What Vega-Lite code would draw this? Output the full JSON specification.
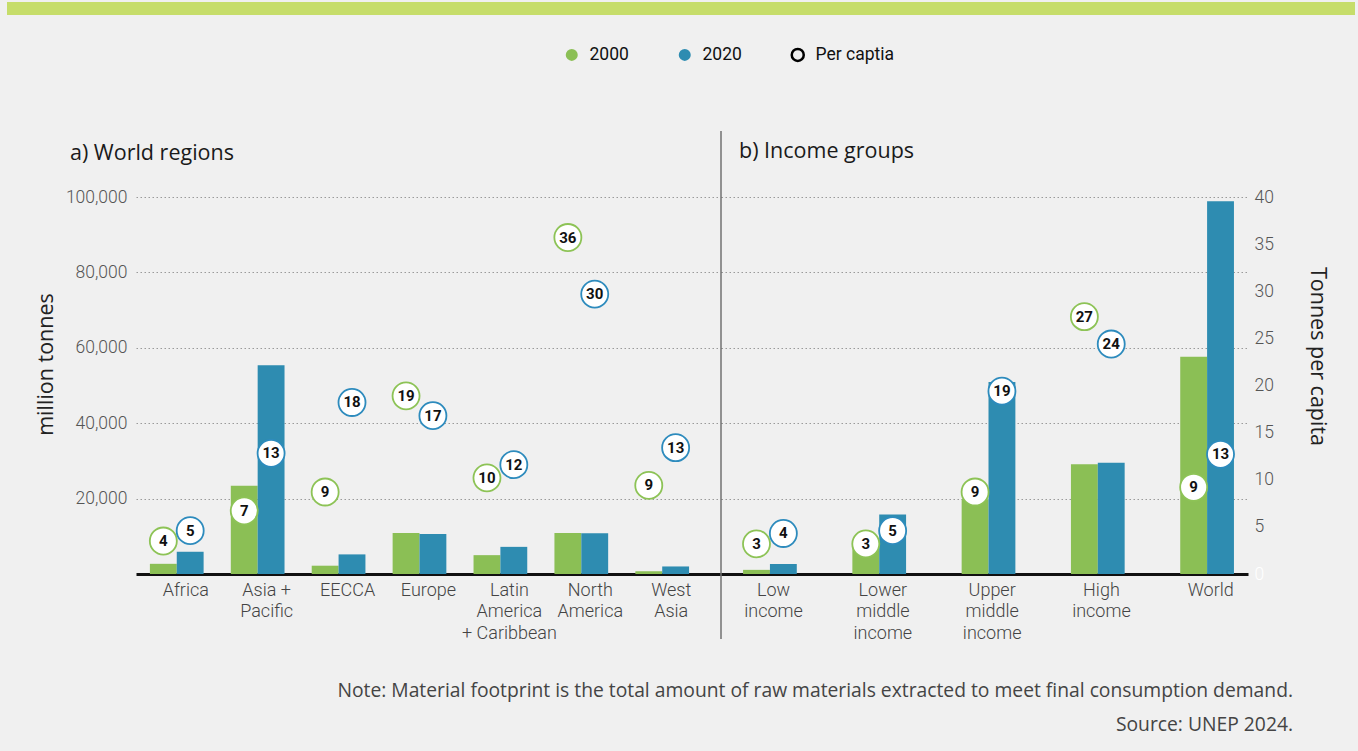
{
  "$schema": "https://vega.github.io/schema/vega-lite/v6.json",
  "background": "#f0f0f0",
  "padding": {"left": 7, "top": 2, "right": 3, "bottom": 18},
  "datasets": {
    "regions": [
      {"group": "Africa", "year": "2000", "tonnes": 2700, "percap": 3.5},
      {"group": "Africa", "year": "2020", "tonnes": 5900, "percap": 4.6},
      {"group": "Asia + Pacific", "year": "2000", "tonnes": 23400, "percap": 6.7},
      {"group": "Asia + Pacific", "year": "2020", "tonnes": 55400, "percap": 12.8},
      {"group": "EECCA", "year": "2000", "tonnes": 2200, "percap": 8.7},
      {"group": "EECCA", "year": "2020", "tonnes": 5200, "percap": 18.2},
      {"group": "Europe", "year": "2000", "tonnes": 10900, "percap": 18.9},
      {"group": "Europe", "year": "2020", "tonnes": 10600, "percap": 16.8},
      {"group": "Latin America + Caribbean", "year": "2000", "tonnes": 5000, "percap": 10.2},
      {"group": "Latin America + Caribbean", "year": "2020", "tonnes": 7200, "percap": 11.6},
      {"group": "North America", "year": "2000", "tonnes": 10900, "percap": 35.7},
      {"group": "North America", "year": "2020", "tonnes": 10800, "percap": 29.7},
      {"group": "West Asia", "year": "2000", "tonnes": 700, "percap": 9.4},
      {"group": "West Asia", "year": "2020", "tonnes": 2000, "percap": 13.4}
    ],
    "income": [
      {"group": "Low income", "year": "2000", "tonnes": 1100, "percap": 3.2},
      {"group": "Low income", "year": "2020", "tonnes": 2650, "percap": 4.3},
      {"group": "Lower middle income", "year": "2000", "tonnes": 7200, "percap": 3.2},
      {"group": "Lower middle income", "year": "2020", "tonnes": 15800, "percap": 4.6},
      {"group": "Upper middle income", "year": "2000", "tonnes": 19800, "percap": 8.7},
      {"group": "Upper middle income", "year": "2020", "tonnes": 50900, "percap": 19.4},
      {"group": "High income", "year": "2000", "tonnes": 29100, "percap": 27.3},
      {"group": "High income", "year": "2020", "tonnes": 29500, "percap": 24.4},
      {"group": "World", "year": "2000", "tonnes": 57600, "percap": 9.2},
      {"group": "World", "year": "2020", "tonnes": 98900, "percap": 12.7}
    ]
  },
  "title": {
    "text": "Note: Material footprint is the total amount of raw materials extracted to meet final consumption demand.",
    "subtitle": "Source: UNEP 2024.",
    "orient": "bottom",
    "anchor": "end",
    "frame": "bounds",
    "dx": -62,
    "offset": 40,
    "font": "Open Sans",
    "fontSize": 19.3,
    "fontWeight": "normal",
    "color": "#444444",
    "subtitleFont": "Open Sans",
    "subtitleFontSize": 19.3,
    "subtitleColor": "#444444",
    "subtitlePadding": 15
  },
  "config": {
    "view": {"stroke": null},
    "axis": {"labelFont": "Roboto", "labelFontWeight": 300},
    "legend": {"labelFont": "Roboto"}
  },
  "spacing": 115,
  "vconcat": [
    {
      "width": 1219,
      "height": 13,
      "data": {"values": [{}]},
      "mark": {"type": "rect", "color": "#c6dd6a"},
      "encoding": {"x": {"value": -129}, "x2": {"value": 1219}}
    },
    {
      "spacing": 0,
      "hconcat": [
        {
          "width": 584,
          "height": 377,
          "data": {"name": "regions"},
          "title": {"text": "a) World regions", "anchor": "start", "frame": "group", "dx": -66, "offset": 27, "dy": 20, "baseline": "alphabetic", "font": "Open Sans", "fontSize": 21.5, "fontWeight": "normal", "color": "#1a1a1a"},
          "layer": [
            {
              "mark": {"type": "bar"},
              "encoding": {
                "x": {"field": "group", "type": "nominal", "sort": null,
                  "scale": {"paddingInner": 0.336, "paddingOuter": 0.277, "align": 0.31},
                  "axis": {"title": null, "ticks": false, "domainColor": "#111111", "domainWidth": 3, "labelAngle": 0, "labelFontSize": 18, "labelColor": "#444444", "labelPadding": 7, "labelBaseline": "top", "labelLineHeight": 21.5, "labelOffset": 9,
                    "labelExpr": "datum.label == 'Asia + Pacific' ? ['Asia +', 'Pacific'] : datum.label == 'Latin America + Caribbean' ? ['Latin', 'America', '+ Caribbean'] : datum.label == 'North America' ? ['North', 'America'] : datum.label == 'West Asia' ? ['West', 'Asia'] : datum.label"}},
                "xOffset": {"field": "year", "type": "nominal", "scale": {"paddingInner": 0, "paddingOuter": 0}},
                "y": {"field": "tonnes", "type": "quantitative", "scale": {"domain": [0, 100000]},
                  "axis": {"title": ["", "million tonnes"], "values": [20000, 40000, 60000, 80000, 100000], "format": ",d", "domain": false, "ticks": false, "grid": true, "gridDash": [1.5, 2.5], "gridColor": "#9a9a9a", "gridWidth": 1, "labelFontSize": 17.5, "labelColor": "#555555", "labelPadding": 9, "titleFont": "Open Sans", "titleFontSize": 21.5, "titleFontWeight": "normal", "titleColor": "#222222", "titleAngle": -90, "titleX": -129, "titleY": 167, "titleBaseline": "top", "titleLineHeight": 28.5, "titleAlign": "center"}},
                "color": {"field": "year", "type": "nominal",
                  "scale": {"domain": ["2000", "2020", "Per captia"], "range": ["#8bbf55", "#2e8cb1", "#000000"]},
                  "legend": {"orient": "none", "legendX": 427, "legendY": 44, "direction": "horizontal", "title": null, "padding": 0, "symbolType": "circle", "symbolSize": 144, "symbolStrokeWidth": 2.5, "labelFontSize": 17.5, "labelColor": "#111111", "labelOffset": 9, "columnPadding": 44,
                    "encode": {"symbols": {"update": {
                      "fill": {"signal": "datum.value == 'Per captia' ? 'transparent' : (datum.value == '2000' ? '#8bbf55' : '#2e8cb1')"},
                      "fillOpacity": {"signal": "datum.value == 'Per captia' ? 0 : 1"},
                      "stroke": {"signal": "datum.value == 'Per captia' ? '#000000' : 'transparent'"},
                      "strokeWidth": {"value": 2.5},
                      "opacity": {"value": 1}}}}}}
              }
            },
            {
              "mark": {"type": "point", "filled": true, "fill": "white", "size": 730, "strokeWidth": 1.8, "opacity": 1},
              "encoding": {
                "x": {"field": "group", "type": "nominal", "sort": null},
                "xOffset": {"field": "year", "type": "nominal"},
                "y": {"field": "percap", "type": "quantitative", "scale": {"domain": [0, 40]}, "axis": null},
                "stroke": {"condition": {"test": "datum.year == '2000'", "value": "#8dc356"}, "value": "#2d8bbd"}
              }
            },
            {
              "mark": {"type": "text", "font": "Roboto", "fontWeight": "bold", "fontSize": 15, "color": "#111111", "baseline": "middle", "align": "center"},
              "encoding": {
                "x": {"field": "group", "type": "nominal", "sort": null},
                "xOffset": {"field": "year", "type": "nominal"},
                "y": {"field": "percap", "type": "quantitative", "scale": {"domain": [0, 40]}, "axis": null},
                "text": {"field": "percap", "type": "quantitative", "format": ".0f"}
              }
            }
          ],
          "resolve": {"scale": {"y": "independent"}}
        },
        {
          "width": 527,
          "height": 377,
          "title": {"text": "b) Income groups", "anchor": "start", "frame": "group", "dx": 18, "offset": 0, "dy": 49, "baseline": "alphabetic", "font": "Open Sans", "fontSize": 21.5, "fontWeight": "normal", "color": "#1a1a1a"},
          "layer": [
            {
              "data": {"values": [{}]},
              "mark": {"type": "rule", "color": "#333333", "strokeWidth": 1},
              "encoding": {"x": {"value": 0}, "y": {"value": -66}, "y2": {"value": 442}}
            },
            {
              "data": {"name": "income"},
              "mark": {"type": "bar"},
              "encoding": {
                "x": {"field": "group", "type": "nominal", "sort": null,
                  "scale": {"paddingInner": 0.46, "paddingOuter": 0.141, "align": 0.716},
                  "axis": {"title": null, "ticks": false, "domainColor": "#111111", "domainWidth": 3, "labelAngle": 0, "labelFontSize": 18, "labelColor": "#444444", "labelPadding": 7, "labelBaseline": "top", "labelLineHeight": 21.5, "labelOffset": 1, "labelExpr": "split(datum.label, ' ')"}},
                "xOffset": {"field": "year", "type": "nominal", "scale": {"paddingInner": 0, "paddingOuter": 0}},
                "y": {"field": "tonnes", "type": "quantitative", "scale": {"domain": [0, 100000]},
                  "axis": {"orient": "left", "title": null, "labels": false, "values": [20000, 40000, 60000, 80000, 100000], "domain": false, "ticks": false, "grid": true, "gridDash": [1.5, 2.5], "gridColor": "#9a9a9a", "gridWidth": 1}},
                "color": {"field": "year", "type": "nominal", "scale": {"domain": ["2000", "2020", "Per captia"], "range": ["#8bbf55", "#2e8cb1", "#000000"]}}
              }
            },
            {
              "data": {"name": "income"},
              "mark": {"type": "point", "filled": true, "fill": "white", "size": 730, "strokeWidth": 1.8, "opacity": 1},
              "encoding": {
                "x": {"field": "group", "type": "nominal", "sort": null},
                "xOffset": {"field": "year", "type": "nominal"},
                "y": {"field": "percap", "type": "quantitative", "scale": {"domain": [0, 40]},
                  "axis": {"orient": "right", "title": "Tonnes per capita", "values": [0, 5, 10, 15, 20, 25, 30, 35, 40], "domain": false, "ticks": false, "grid": false, "labelPadding": 6, "labelFontSize": 17.5, "labelColor": {"condition": {"test": "datum.value == 0", "value": "#ffffff"}, "value": "#555555"}, "titleFont": "Open Sans", "titleFontSize": 21.5, "titleFontWeight": "normal", "titleColor": "#222222", "titleAngle": 90, "titleX": 68, "titleY": 159, "titleBaseline": "middle", "titleAlign": "center"}},
                "stroke": {"condition": {"test": "datum.year == '2000'", "value": "#8dc356"}, "value": "#2d8bbd"}
              }
            },
            {
              "data": {"name": "income"},
              "mark": {"type": "text", "font": "Roboto", "fontWeight": "bold", "fontSize": 15, "color": "#111111", "baseline": "middle", "align": "center"},
              "encoding": {
                "x": {"field": "group", "type": "nominal", "sort": null},
                "xOffset": {"field": "year", "type": "nominal"},
                "y": {"field": "percap", "type": "quantitative", "scale": {"domain": [0, 40]}, "axis": null},
                "text": {"field": "percap", "type": "quantitative", "format": ".0f"}
              }
            }
          ],
          "resolve": {"scale": {"y": "independent"}}
        }
      ]
    }
  ]
}
